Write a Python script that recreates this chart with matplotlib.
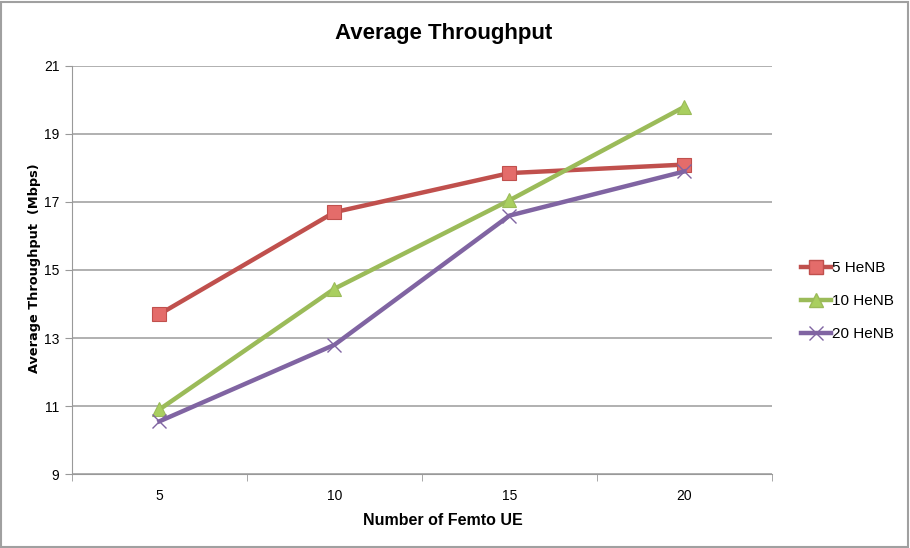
import numpy as np
import matplotlib.pyplot as plt
from matplotlib.lines import Line2D
from matplotlib.patches import Rectangle

# ---------------- data ----------------
categories = ["5", "10", "15", "20"]
henb5 = [13.7, 16.7, 17.85, 18.1]
henb10 = [10.9, 14.45, 17.05, 19.8]
henb20 = [10.55, 12.8, 16.6, 17.9]
series_names = ["5 HeNB", "10 HeNB", "20 HeNB"]
yticks = [9, 11, 13, 15, 17, 19, 21]

# ---------------- style ----------------
narrow = ["Liberation Sans", "DejaVu Sans"]
red, red_fill = "#C0504D", "#E46C6A"
green, green_fill = "#9BBB59", "#A9CF5F"
purple = "#8064A2"

fig = plt.figure(figsize=(9.1, 5.48), dpi=100)
fig.patches.append(Rectangle((0.001, 0.002), 0.997, 0.995, transform=fig.transFigure,
                             fill=False, edgecolor="#A0A0A0", linewidth=1.5))
ax = fig.add_axes([0.0791, 0.135, 0.7692, 0.7446])

x = np.arange(len(categories))
ax.plot(x, henb5, color=red, lw=3.2, marker="s", ms=10, mfc=red_fill, mec=red, mew=0.8,
        label=series_names[0], zorder=3)
ax.plot(x, henb10, color=green, lw=3.2, marker="^", ms=10, mfc=green_fill, mec=green, mew=0.8,
        label=series_names[1], zorder=3)
ax.plot(x, henb20, color=purple, lw=3.2, marker="x", ms=10, mec=purple, mew=1.0,
        label=series_names[2], zorder=3)

ax.set_xlim(-0.5, len(categories) - 0.5)
ax.set_ylim(yticks[0], yticks[-1])
ax.set_yticks(yticks)
ax.set_xticks(x)
ax.set_xticklabels(categories)
ax.set_xticks(np.arange(-0.5, len(categories)), minor=True)
ax.tick_params(axis="x", which="major", length=0, pad=11)
ax.tick_params(axis="x", which="minor", length=5, color="#999999", direction="out")
ax.tick_params(axis="y", length=5, color="#999999", direction="out", pad=4)
for lab in ax.get_xticklabels() + ax.get_yticklabels():
    lab.set_family(narrow)
    lab.set_fontsize(10)

ax.grid(axis="y", color="#B0B0B0", lw=1.4)
ax.set_axisbelow(True)
for s in ["top", "right"]:
    ax.spines[s].set_visible(False)
ax.spines["left"].set_color("#999999")
ax.spines["bottom"].set_color("#999999")

fig.text(0.487, 0.938, "Average Throughput", ha="center", va="center",
         family=narrow, fontsize=16, fontweight="bold")
fig.text(0.487, 0.051, "Number of Femto UE", ha="center", va="center",
         family=narrow, fontsize=11.5, fontweight="bold")
fig.text(0.038, 0.511, "Average Throughput  (Mbps)", ha="center", va="center",
         rotation=90, family="DejaVu Sans", fontsize=9.3, fontweight="bold")

handles = [
    Line2D([], [], color=red, lw=3.2, marker="s", ms=10, mfc=red_fill, mec=red),
    Line2D([], [], color=green, lw=3.2, marker="^", ms=10, mfc=green_fill, mec=green),
    Line2D([], [], color=purple, lw=3.2, marker="x", ms=10, mec=purple),
]
leg = fig.legend(handles, series_names, loc="center left", bbox_to_anchor=(0.865, 0.45),
                 frameon=False, handlelength=2.0, handletextpad=0.05, labelspacing=1.25,
                 prop={"family": narrow, "size": 11})

fig.savefig("out.png", dpi=100)
